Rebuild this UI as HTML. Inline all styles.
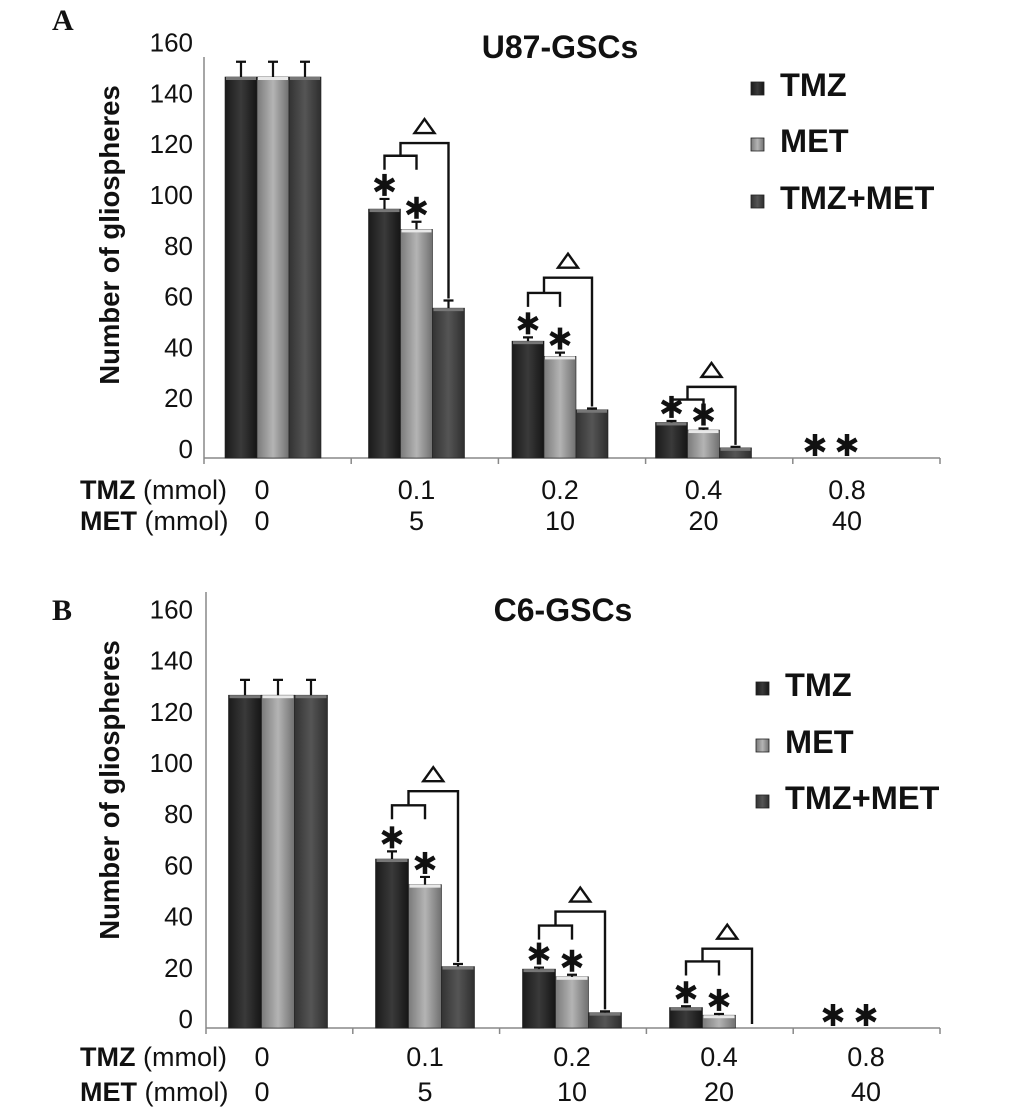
<!DOCTYPE html>
<html><head><meta charset="utf-8"><style>
body{margin:0;background:#fff;}
svg{display:block;font-family:"Liberation Sans","DejaVu Sans",sans-serif;}
</style></head><body>
<svg id="fig" width="1033" height="1117" viewBox="0 0 1033 1117">
<defs>
<linearGradient id="gT" x1="0" x2="1" y1="0" y2="0"><stop offset="0" stop-color="#1a1a1a"/><stop offset="0.5" stop-color="#3a3a3a"/><stop offset="1" stop-color="#151515"/></linearGradient>
<linearGradient id="gM" x1="0" x2="1" y1="0" y2="0"><stop offset="0" stop-color="#7a7a7a"/><stop offset="0.5" stop-color="#b4b4b4"/><stop offset="1" stop-color="#707070"/></linearGradient>
<linearGradient id="gC" x1="0" x2="1" y1="0" y2="0"><stop offset="0" stop-color="#333"/><stop offset="0.5" stop-color="#555"/><stop offset="1" stop-color="#2e2e2e"/></linearGradient>
</defs>
</svg>
<script>
// Panel A (U87-GSCs)
const categoriesTMZ = ["0","0.1","0.2","0.4","0.8"];
const categoriesMET = ["0","5","10","20","40"];
const yTicks = [0,20,40,60,80,100,120,140,160];
const seriesNames = ["TMZ","MET","TMZ+MET"];
const aTMZ = [150, 98, 46, 14, 0];
const aMET = [150, 90, 40, 11, 0];
const aCombo = [150, 59, 19, 4, 0];
const aErrTMZ = [6, 4, 1.5, 0.6, 0];
const aErrMET = [6, 3, 1.5, 0.6, 0];
const aErrCombo = [6, 3, 0.5, 0.4, 0];
const aBracketLow = [null, 119, 65, 23, null];
const aBracketHigh = [null, 124, 71, 28, null];
// Panel B (C6-GSCs)
const bTMZ = [130, 66, 23, 8, 0];
const bMET = [130, 56, 20, 5, 0];
const bCombo = [130, 24, 6, 0, 0];
const bErrTMZ = [6, 3, 0.6, 0.5, 0];
const bErrMET = [6, 3, 0.8, 0.5, 0];
const bErrCombo = [6, 1, 0.5, 0, 0];
const bBracketLow = [null, 87, 40, 26, null];
const bBracketHigh = [null, 92.5, 45.5, 31, null];

const NS="http://www.w3.org/2000/svg";
const svg=document.getElementById('fig');
function el(tag,attrs,parent,text){const e=document.createElementNS(NS,tag);for(const k in attrs)e.setAttribute(k,attrs[k]);if(text!==undefined)e.textContent=text;(parent||svg).appendChild(e);return e;}

function asterisk(g,cx,cy){
  const grp=el('g',{},g);
  
  
  for(let i=0;i<3;i++){const a=Math.PI/2+i*Math.PI/3;const r=11;
    el('line',{x1:cx-r*Math.cos(a),y1:cy-r*Math.sin(a),x2:cx+r*Math.cos(a),y2:cy+r*Math.sin(a),stroke:'#111','stroke-width':4.5},grp);}
}

function panel(p){
  const g=el('g',{});
  
  
  const y=v=>p.base-v*p.scale;
  const cx=i=>p.c0+p.gw*i;
  const bw=p.bw;
  const L=el('text',{x:52,y:p.letterY,'font-family':'Liberation Serif,serif','font-weight':'bold','font-size':30,fill:'#111'},g,p.letter);
  
  
  const T=el('text',{x:p.titleX,y:p.titleY,'text-anchor':'middle','font-weight':'bold','font-size':32,fill:'#111'},g,p.title);
  
  
  const YT=el('text',{x:0,y:0,transform:`translate(${p.ytX},${p.ytY}) rotate(-90)`,'text-anchor':'middle','font-weight':'bold','font-size':27.5,fill:'#111'},g,'Number of gliospheres');
  
  
  yTicks.forEach(t=>{
    const tl=el('text',{x:193,y:y(t),'text-anchor':'end','font-size':26,fill:'#111'},g,String(t));
    
    
  });
  const ya=el('line',{x1:p.x0,y1:p.axisTop,x2:p.x0,y2:p.base,stroke:'#888','stroke-width':1.5},g);
  
  
  const xa=el('line',{x1:p.x0,y1:p.base,x2:p.x1,y2:p.base,stroke:'#888','stroke-width':1.5},g);
  
  
  const tw=(p.x1-p.x0)/5;
  for(let i=0;i<=5;i++){const tk=el('line',{x1:p.x0+tw*i,y1:p.base,x2:p.x0+tw*i,y2:p.base+6,stroke:'#888','stroke-width':1.5},g);
    
    }
  const series=[[p.tmz,p.eT,'url(#gT)','bar-tmz'],[p.met,p.eM,'url(#gM)','bar-met'],[p.combo,p.eC,'url(#gC)','bar-tmz-met']];
  const tops=[];
  for(let i=0;i<5;i++){
    tops.push([]);
    series.forEach((s,k)=>{
      const v=s[0][i];const bx=cx(i)+(k-1.5)*bw;
      if(v>0){
        const r=el('rect',{x:bx,y:y(v),width:bw,height:v*p.scale,fill:s[2],stroke:'#222','stroke-width':0.6},g);
        
        
        el('rect',{x:bx+1,y:y(v),width:bw-2,height:3,fill:k==1?'#e8e8e8':'#777'},g);
        const e=s[1][i];
        if(e>0){const ex=bx+bw/2;
          const eb=el('path',{d:`M${ex},${y(v)} V${y(v+e)} M${ex-5},${y(v+e)} H${ex+5}`,stroke:'#111','stroke-width':2.2,fill:'none'},g);
          
          }
      }
      tops[i].push(y(v+s[1][i]));
    });
    if(i>0){
      asterisk(g,cx(i)-bw,(i===4?p.base-13:tops[i][0]-14));
      asterisk(g,cx(i),(i===4?p.base-13:tops[i][1]-14));
    }
    if(p.bl[i]!=null){
      const xT=cx(i)-bw, xM=cx(i), xC=cx(i)+bw;
      const yl=y(p.bl[i]), yh=y(p.bh[i]);
      const mid=(xT+xM)/2;
      const comboTop=p.combo[i]>0?tops[i][2]-2:p.base-4;
      const br=el('path',{d:`M${xT},${yl+14} V${yl} H${xM} V${yl+14} M${mid},${yl} V${yh} H${xC} V${comboTop}`,stroke:'#111','stroke-width':2.4,fill:'none'},g);
      
      
      const tx=(mid+xC)/2, ty=yh-10;
      const tri=el('path',{d:`M${tx-10},${ty} L${tx+10},${ty} L${tx},${ty-14} Z`,stroke:'#111','stroke-width':2.4,fill:'#fff'},g);
      
      
    }
  }
  [['TMZ',categoriesTMZ,p.row1],['MET',categoriesMET,p.row2]].forEach(r=>{
    const t=el('text',{x:80,y:r[2],'font-size':27,fill:'#111'},g);
    
    
    el('tspan',{'font-weight':'bold'},t,r[0]);
    el('tspan',{},t,' (mmol)');
    r[1].forEach((c,i)=>{
      const lx=i===0?262:cx(i);
      const ct=el('text',{x:lx,y:r[2],'text-anchor':'middle','font-size':27,fill:'#111'},g,c);
      
      
    });
  });
  const fills=['url(#gT)','url(#gM)','url(#gC)'];
  seriesNames.forEach((n,k)=>{
    const ly=p.legY[k];
    const lg=el('g',{},g);
    
    
    el('rect',{x:p.legX,y:ly-14,width:13,height:13,fill:fills[k],stroke:'#222','stroke-width':0.8},lg);
    el('text',{x:p.legX+29,y:ly,'font-weight':'bold','font-size':32.5,fill:'#111'},lg,n);
  });
}

panel({name:'panel-a-u87',letter:'A',letterY:30,title:'U87-GSCs',titleX:560,titleY:58,ytX:119,ytY:235,
  x0:204,x1:940,c0:273,gw:143.5,bw:32,base:458,scale:2.54,axisTop:57,
  tmz:aTMZ,met:aMET,combo:aCombo,eT:aErrTMZ,eM:aErrMET,eC:aErrCombo,bl:aBracketLow,bh:aBracketHigh,
  row1:499,row2:530,legX:751,legY:[96,152,209]});
panel({name:'panel-b-c6',letter:'B',letterY:620,title:'C6-GSCs',titleX:563,titleY:621,ytX:119,ytY:790,
  x0:206,x1:940,c0:278,gw:147,bw:33,base:1028,scale:2.56,axisTop:592,
  tmz:bTMZ,met:bMET,combo:bCombo,eT:bErrTMZ,eM:bErrMET,eC:bErrCombo,bl:bBracketLow,bh:bBracketHigh,
  row1:1066,row2:1101,legX:756,legY:[696,753,809]});
</script>
</body></html>
